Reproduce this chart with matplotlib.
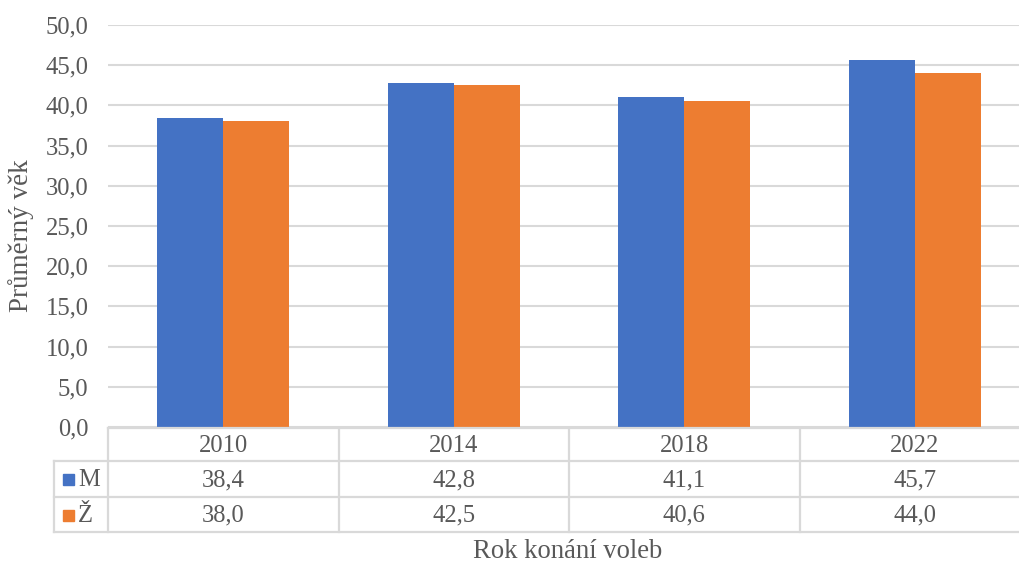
import matplotlib
matplotlib.use("Agg")
import matplotlib.pyplot as plt
import numpy as np
from matplotlib.lines import Line2D
from matplotlib.patches import Rectangle
from matplotlib.transforms import blended_transform_factory

years = ["2010", "2014", "2018", "2022"]
series_names = ["M", "Ž"]
values_m = [38.4, 42.8, 41.1, 45.7]
values_z = [38.0, 42.5, 40.6, 44.0]
colors = ["#4472C4", "#ED7D31"]
yticks = [0, 5, 10, 15, 20, 25, 30, 35, 40, 45, 50]

plt.rcParams['font.family'] = ['Liberation Serif', 'DejaVu Serif']
TXT = "#595959"
GRID = "#D9D9D9"
FS = 17.7

W, H = 1019, 564
fig = plt.figure(figsize=(W / 100, H / 100), dpi=100)

def fx(px):
    return px / W

def fy(py):
    return 1 - py / H

left_px, right_px = 108, 108 + 4 * 230.5
top_px, bot_px = 25, 427
ax = fig.add_axes([fx(left_px), fy(bot_px), fx(right_px - left_px), fy(top_px) - fy(bot_px)])

x = np.arange(len(years)) + 0.5
bw = 66 / 230.5
ax.bar(x - bw / 2, values_m, bw, color=colors[0], zorder=3)
ax.bar(x + bw / 2, values_z, bw, color=colors[1], zorder=3)

ax.set_xlim(0, len(years))
ax.set_ylim(0, 50)
ax.set_yticks(yticks)
ax.set_yticklabels([f"{v:.1f}".replace(".", ",") for v in yticks], color=TXT, fontsize=FS)
ax.tick_params(axis='y', length=0, pad=14)
ax.set_xticks([])
ax.grid(axis='y', color=GRID, lw=1.5, zorder=0)
for s in ax.spines.values():
    s.set_visible(False)

# y label
fig.text(fx(21), fy(236), "Průměrný věk", rotation=90, ha='center', va='center',
         color=TXT, fontsize=19.5)
# x label
fig.text(fx(568), fy(551), "Rok konání voleb", ha='center', va='center',
         color=TXT, fontsize=19.2)

# data table
tr = blended_transform_factory(ax.transData, fig.transFigure)
lw = 1.6
x_end = len(years)
x_leg = -(108 - 54) / 230.5

def hline(py, x0, x1):
    fig.add_artist(Line2D([x0, x1], [fy(py), fy(py)], transform=tr, color=GRID, lw=lw, clip_on=False))

def vline(xd, py0, py1):
    fig.add_artist(Line2D([xd, xd], [fy(py0), fy(py1)], transform=tr, color=GRID, lw=lw, clip_on=False))

rows = [428, 461, 497, 532]
hline(rows[0], 0, x_end)
for r in rows[1:]:
    hline(r, x_leg, x_end)
vline(x_leg, rows[1], rows[3])
for k in range(len(years) + 1):
    vline(k, rows[0], rows[3])

for i, yr in enumerate(years):
    fig.text(x[i], fy((rows[0] + rows[1]) / 2 + 1), yr, transform=tr, ha='center', va='center',
             color=TXT, fontsize=FS)
    fig.text(x[i], fy((rows[1] + rows[2]) / 2 + 1), f"{values_m[i]:.1f}".replace(".", ","),
             transform=tr, ha='center', va='center', color=TXT, fontsize=FS)
    fig.text(x[i], fy((rows[2] + rows[3]) / 2 + 1), f"{values_z[i]:.1f}".replace(".", ","),
             transform=tr, ha='center', va='center', color=TXT, fontsize=FS)

for j, name in enumerate(series_names):
    cy = (rows[1 + j] + rows[2 + j]) / 2 + 0.5
    fig.add_artist(Rectangle((fx(63), fy(cy + 5.5)), fx(11), fy(cy - 5.5) - fy(cy + 5.5),
                             transform=fig.transFigure, color=colors[j]))
    fig.text(fx(78), fy(cy + 1), name, ha='left', va='center', color=TXT, fontsize=FS)

fig.savefig("out.png", dpi=100)
